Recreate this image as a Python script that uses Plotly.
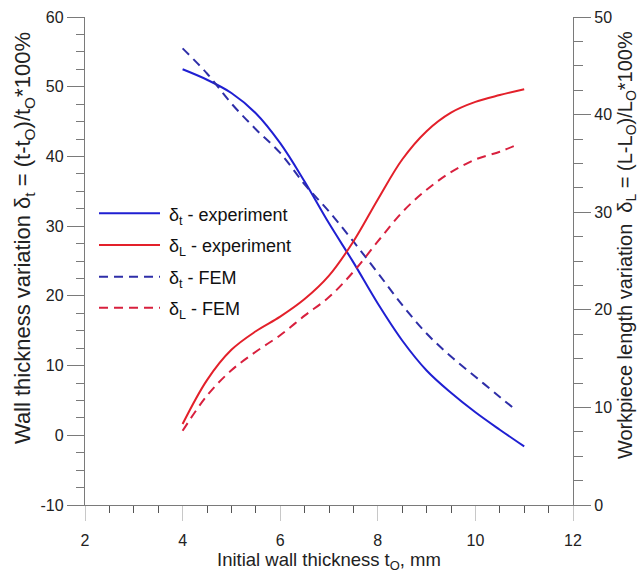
import plotly.graph_objects as go

# Initial wall thickness t0 (mm) at which each curve is sampled
t0_exp = [4.0, 4.5, 5.0, 5.5, 6.0, 6.5, 7.0, 7.5, 8.0, 8.5, 9.0, 9.5, 10.0, 10.5, 11.0]
t0_fem = [4.0, 4.5, 5.0, 5.5, 6.0, 6.5, 7.0, 7.5, 8.0, 8.5, 9.0, 9.5, 10.0, 10.5, 10.85]

# Wall thickness variation delta_t (%), left axis
dt_experiment = [52.5, 51.0, 49.1, 46.2, 41.9, 36.4, 30.4, 24.8, 18.9, 13.6, 9.3, 6.1, 3.3, 0.8, -1.6]
dt_fem = [55.5, 51.9, 47.6, 43.9, 40.5, 36.0, 32.1, 27.8, 23.3, 18.7, 14.6, 11.3, 8.4, 5.5, 3.5]

# Workpiece length variation delta_L (%), right axis
dl_experiment = [8.3, 12.8, 15.9, 17.8, 19.3, 21.1, 23.5, 27.0, 31.3, 35.4, 38.3, 40.2, 41.3, 42.0, 42.6]
dl_fem = [7.6, 11.2, 13.8, 15.7, 17.4, 19.4, 21.3, 23.9, 27.0, 30.0, 32.3, 34.1, 35.4, 36.2, 36.9]

# Tick labels
x_ticks = [2, 4, 6, 8, 10, 12]
left_ticks = [-10, 0, 10, 20, 30, 40, 50, 60]
right_ticks = [0, 10, 20, 30, 40, 50]

legend_labels = [
    "δ<sub>t</sub> - experiment",
    "δ<sub>L</sub> - experiment",
    "δ<sub>t</sub> - FEM",
    "δ<sub>L</sub> - FEM",
]

FONT = "Liberation Sans, Arial, sans-serif"
AXIS_GREY = "#7a7a7a"
BLUE = "#1f1fd2"
RED = "#e3202a"
BLUE_D = "#2e2ea8"
RED_D = "#d8203e"
DASH = "9px,6px"

styles = [
    dict(color=BLUE, width=2, dash="solid"),
    dict(color=RED, width=2, dash="solid"),
    dict(color=BLUE_D, width=2, dash=DASH),
    dict(color=RED_D, width=2, dash=DASH),
]

fig = go.Figure()
series = [
    (t0_exp, dt_experiment, "y"),
    (t0_exp, dl_experiment, "y2"),
    (t0_fem, dt_fem, "y"),
    (t0_fem, dl_fem, "y2"),
]
for (xs, ys, ax), st, name in zip(series, styles, legend_labels):
    fig.add_trace(go.Scatter(
        x=xs, y=ys, yaxis=ax, mode="lines", name=name,
        line=dict(shape="spline", smoothing=1.0, **st),
        showlegend=False, hoverinfo="skip",
    ))

# Legend drawn inside the plot area on the left
leg_y = [0.5977, 0.5328, 0.4678, 0.4043]
shapes = []
annotations = []
for yy, st, name in zip(leg_y, styles, legend_labels):
    shapes.append(dict(type="line", xref="paper", yref="paper",
                       x0=0.0287, x1=0.1537, y0=yy, y1=yy,
                       line=dict(color=st["color"], width=st["width"], dash=st["dash"])))
    annotations.append(dict(xref="paper", yref="paper", x=0.168, y=yy - 0.006,
                            xanchor="left", yanchor="middle", showarrow=False,
                            text=name, font=dict(family=FONT, size=18, color="#111")))

# Vertical axis titles
annotations.append(dict(
    xref="paper", yref="paper", x=-0.125, y=0.547, xanchor="center", yanchor="middle",
    textangle=-90, showarrow=False,
    text="Wall thickness variation δ<sub>t</sub> = (t-t<sub>O</sub>)/t<sub>O</sub>*100%",
    font=dict(family=FONT, size=22, color="#222")))
annotations.append(dict(
    xref="paper", yref="paper", x=1.111, y=0.533, xanchor="center", yanchor="middle",
    textangle=-90, showarrow=False,
    text="Workpiece length variation  δ<sub>L</sub> = (L-L<sub>O</sub>)/L<sub>O</sub>*100%",
    font=dict(family=FONT, size=20, color="#222")))

tickfont = dict(family=FONT, size=16, color="#222")
titlefont = dict(family=FONT, size=18.5, color="#222")

fig.update_layout(
    width=641, height=573,
    margin=dict(l=85, r=68, t=17, b=68, autoexpand=False),
    paper_bgcolor="white", plot_bgcolor="white",
    showlegend=False,
    shapes=shapes, annotations=annotations,
    xaxis=dict(
        range=[2, 12], tickvals=x_ticks, ticktext=[str(v) for v in x_ticks],
        automargin=False,
        showgrid=False, zeroline=False,
        showline=True, linecolor=AXIS_GREY, linewidth=1.3,
        ticks="outside", ticklen=15, tickcolor="#c8c8c8", tickwidth=1,
        minor=dict(dtick=0.5, tick0=2, ticks="outside", ticklen=7, tickcolor="#555", tickwidth=1),
        tickfont=tickfont, ticklabelstandoff=6,
        title=dict(text="Initial wall thickness t<sub>O</sub>, mm", font=titlefont, standoff=7),
    ),
    yaxis=dict(
        range=[-10, 60], tickvals=left_ticks, ticktext=[str(v) for v in left_ticks],
        automargin=False,
        showgrid=False, zeroline=False,
        showline=True, linecolor=AXIS_GREY, linewidth=1.3,
        ticks="outside", ticklen=17, tickcolor=AXIS_GREY, tickwidth=1,
        minor=dict(dtick=2.5, tick0=0, ticks="outside", ticklen=8, tickcolor=AXIS_GREY, tickwidth=1),
        tickfont=tickfont,
    ),
    yaxis2=dict(
        range=[0, 50], tickvals=right_ticks, ticktext=[str(v) for v in right_ticks],
        overlaying="y", side="right", automargin=False,
        showgrid=False, zeroline=False,
        showline=True, linecolor=AXIS_GREY, linewidth=1.3,
        ticks="outside", ticklen=17, tickcolor=AXIS_GREY, tickwidth=1,
        minor=dict(dtick=2.5, tick0=0, ticks="outside", ticklen=9, tickcolor=AXIS_GREY, tickwidth=1),
        tickfont=tickfont,
    ),
)

fig.write_html("out.html")
